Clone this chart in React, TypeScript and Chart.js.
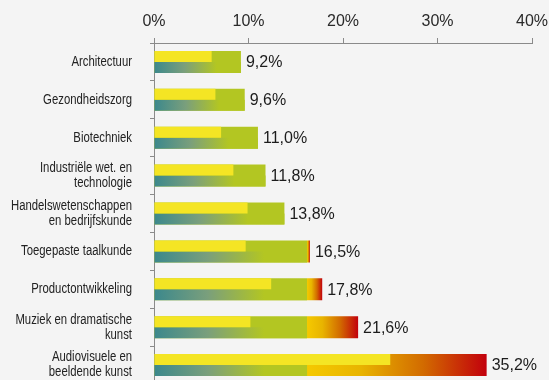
import React, { useEffect, useRef } from "react";
import { Chart, registerables } from "chart.js";

Chart.register(...registerables);

// ---- Data ----
const categories: string[][] = [
  ["Architectuur"],
  ["Gezondheidszorg"],
  ["Biotechniek"],
  ["Industriële wet. en", "technologie"],
  ["Handelswetenschappen", "en bedrijfskunde"],
  ["Toegepaste taalkunde"],
  ["Productontwikkeling"],
  ["Muziek en dramatische", "kunst"],
  ["Audiovisuele en", "beeldende kunst"],
];
const totals: number[] = [9.2, 9.6, 11.0, 11.8, 13.8, 16.5, 17.8, 21.6, 35.2];
const topValues: number[] = [6.1, 6.5, 7.1, 8.4, 9.9, 9.7, 12.4, 10.2, 25.0];
const BASE_LIMIT = 16.2;
const X_MIN = 0;
const X_MAX = 40;
const X_STEP = 10;

// ---- Styles ----
const BG = "#f4f4f4";
const YELLOW = "#f4e524";
const GREEN = "#b3c622";
const TEAL = "#3b888c";
const AXIS = "#8a8a8a";
const LABEL_FONT = '"Liberation Sans", Arial, sans-serif';
const VALUE_FONT = '"Liberation Sans", Arial, sans-serif';

const fmt = (v: number) => v.toFixed(1).replace(".", ",") + "%";

function totalGradient(ctx: any) {
  const chart = ctx.chart;
  if (ctx.type !== "data" || !chart.chartArea) return GREEN;
  const xs = chart.scales.x;
  const v = totals[ctx.dataIndex];
  const x0 = xs.getPixelForValue(0);
  const x1 = xs.getPixelForValue(v);
  const g = chart.ctx.createLinearGradient(x0, 0, x1, 0);
  if (v <= BASE_LIMIT) {
    g.addColorStop(0, GREEN);
    g.addColorStop(1, GREEN);
    return g;
  }
  const f = BASE_LIMIT / v;
  g.addColorStop(0, GREEN);
  g.addColorStop(f, GREEN);
  g.addColorStop(Math.min(1, f + 0.0005), "#f5c900");
  g.addColorStop(f + (1 - f) * 0.3, "#e8b400");
  g.addColorStop(f + (1 - f) * 0.65, "#d26a00");
  g.addColorStop(1, "#c2000c");
  return g;
}

function bottomGradient(ctx: any) {
  const chart = ctx.chart;
  if (ctx.type !== "data" || !chart.chartArea) return TEAL;
  const xs = chart.scales.x;
  const v = Math.min(totals[ctx.dataIndex], BASE_LIMIT);
  const x0 = xs.getPixelForValue(0);
  const x1 = xs.getPixelForValue(v);
  const g = chart.ctx.createLinearGradient(x0, 0, x1, 0);
  g.addColorStop(0, TEAL);
  g.addColorStop(0.35, "#7a9f7c");
  g.addColorStop(0.72, GREEN);
  g.addColorStop(1, GREEN);
  return g;
}

const valueLabels = {
  id: "valueLabels",
  afterDatasetsDraw(chart: any) {
    const meta = chart.getDatasetMeta(2);
    const c = chart.ctx;
    c.save();
    c.font = `16px ${VALUE_FONT}`;
    c.fillStyle = "#1c1c1c";
    c.textAlign = "left";
    c.textBaseline = "middle";
    meta.data.forEach((el: any, i: number) => {
      c.fillText(fmt(totals[i]), el.x + 5, el.y + 1);
    });
    c.restore();
  },
};

// Condensed category labels (narrow typeface imitation via horizontal scale)
const categoryLabels = {
  id: "categoryLabels",
  afterDraw(chart: any) {
    const ys = chart.scales.y;
    const c = chart.ctx;
    const lineH = 15;
    const right = ys.right - 4 - 18;
    c.save();
    c.font = `14px ${LABEL_FONT}`;
    c.fillStyle = "#222";
    c.textAlign = "right";
    c.textBaseline = "middle";
    categories.forEach((lines, i) => {
      const y = ys.getPixelForValue(i);
      const start = -((lines.length - 1) * lineH) / 2;
      lines.forEach((line, k) => {
        c.save();
        c.translate(right, y + start + k * lineH);
        c.scale(0.81, 1);
        c.fillText(line, 0, 0);
        c.restore();
      });
    });
    c.restore();
  },
};

export default function App() {
  const ref = useRef<HTMLCanvasElement | null>(null);

  useEffect(() => {
    if (!ref.current) return;
    const chart = new Chart(ref.current, {
      type: "bar",
      data: {
        labels: categories,
        datasets: [
          {
            label: "Boven",
            data: topValues,
            backgroundColor: YELLOW,
            order: 0,
          },
          {
            label: "Onder",
            data: totals.map((v) => Math.min(v, BASE_LIMIT)),
            backgroundColor: bottomGradient,
            order: 0,
          },
          {
            label: "Totaal",
            data: totals,
            backgroundColor: totalGradient,
            grouped: false,
            order: 1,
          } as any,
        ],
      },
      options: {
        indexAxis: "y",
        responsive: false,
        animation: false,
        devicePixelRatio: 1,
        layout: { padding: { top: 0, right: 17, bottom: 2, left: 0 } },
        datasets: {
          bar: {
            categoryPercentage: 0.58,
            barPercentage: 1,
            borderWidth: 0,
            inflateAmount: 0,
          },
        } as any,
        plugins: {
          legend: { display: false },
          tooltip: { enabled: false },
        },
        scales: {
          x: {
            type: "linear",
            position: "top",
            min: X_MIN,
            max: X_MAX,
            ticks: {
              stepSize: X_STEP,
              callback: (v: any) => `${v}%`,
              font: { family: VALUE_FONT, size: 16 },
              color: "#2a2a2a",
              padding: 7,
            },
            grid: {
              drawOnChartArea: false,
              drawTicks: true,
              tickLength: 5,
              color: AXIS,
            },
            border: { display: true, color: AXIS },
            afterFit: (s: any) => {
              s.height = 43;
              s.paddingLeft = 0;
              s.paddingRight = 0;
            },
          },
          y: {
            type: "category",
            ticks: {
              display: false,
              autoSkip: false,
            },
            grid: {
              drawOnChartArea: false,
              drawTicks: true,
              tickLength: 4,
              color: AXIS,
              offset: true,
            },
            border: { display: true, color: AXIS },
            afterFit: (s: any) => {
              s.width = 154;
              s.paddingTop = 0;
              s.paddingBottom = 0;
            },
          },
        },
      } as any,
      plugins: [valueLabels, categoryLabels],
    });
    return () => chart.destroy();
  }, []);

  return (
    <div
      style={{
        position: "fixed",
        left: 0,
        top: 0,
        width: 549,
        height: 380,
        overflow: "hidden",
        background: BG,
      }}
    >
      <canvas ref={ref} width={549} height={386} style={{ display: "block" }} />
    </div>
  );
}
